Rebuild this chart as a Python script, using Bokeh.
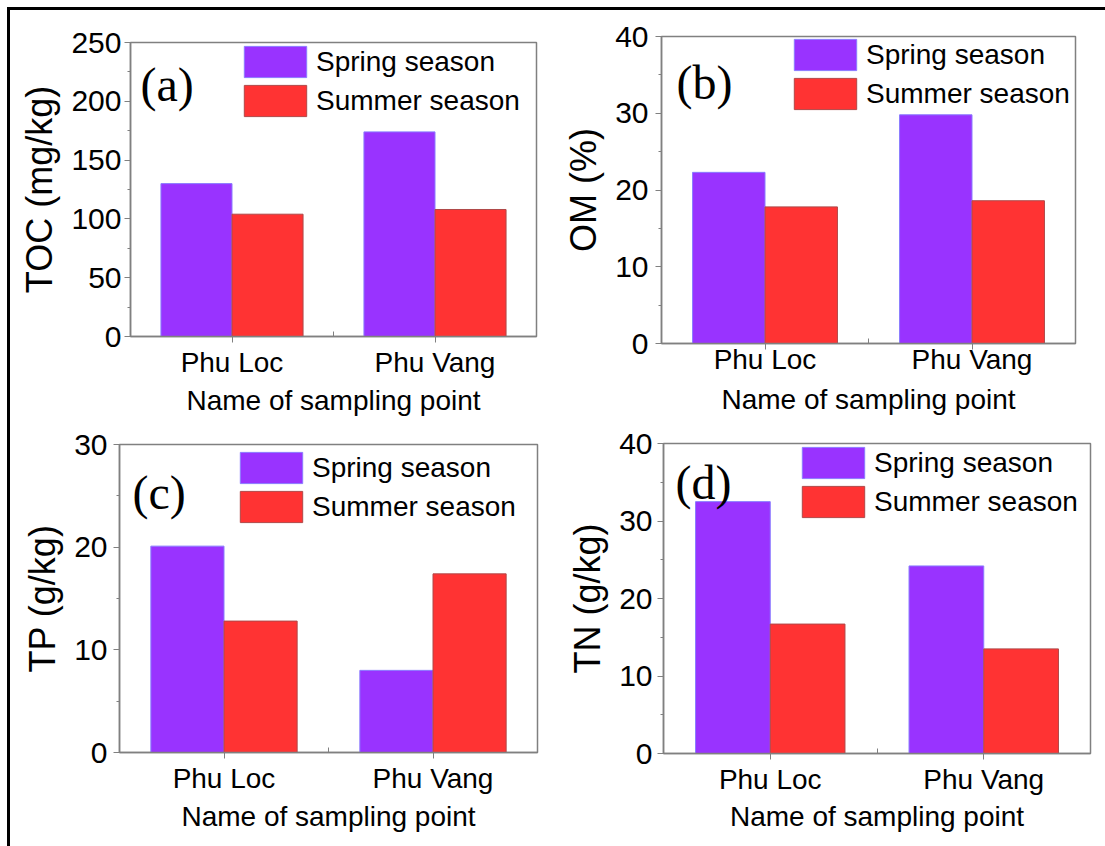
from bokeh.plotting import figure
from bokeh.models import (ColumnDataSource, Legend, LegendItem, Label, FixedTicker,
                          SingleIntervalTicker, Range1d, InlineStyleSheet)
from bokeh.layouts import row, column
from bokeh.transform import dodge
from bokeh.embed import file_html
from bokeh.resources import INLINE

# ---------------- data ----------------
sites = ["Phu Loc", "Phu Vang"]
series_names = ["Spring season", "Summer season"]

toc_spring = [130, 174]
toc_summer = [104, 108]
om_spring = [22.3, 29.8]
om_summer = [17.8, 18.6]
tp_spring = [20.1, 8.0]
tp_summer = [12.8, 17.4]
tn_spring = [32.5, 24.2]
tn_summer = [16.7, 13.5]

y_titles = ["TOC (mg/kg)", "OM (%)", "TP (g/kg)", "TN (g/kg)"]
panel_tags = ["(a)", "(b)", "(c)", "(d)"]
y_max = [250, 40, 30, 40]
y_step = [50, 10, 10, 10]
x_title = "Name of sampling point"

SPRING = "#9933FF"
SUMMER = "#FF3333"
SPRING_LINE = "#8A7CFF"
SUMMER_LINE = "#B04848"
GREY = "#808080"
SANS = "Liberation Sans"
SERIF = "Liberation Serif"

# layout per panel: (width, height, left, right, top, bottom, legend_x, legend_y, tag_x, tag_y)
geom = [
    (550, 420, 130, 14, 42, 84, 114, 220, 10, 252),
    (555, 420, 111, 30, 36, 77, 133, 234, 15, 261),
    (550, 426, 119, 13, 24, 94, 121, 230, 13, 260),
    (555, 426, 113, 15, 23, 93, 139, 236, 12, 271),
]
# standoffs per panel: (x tick label, x title, y tick label)
standoffs = [
    (4, 4, 3),
    (-6, 6, 7),
    (4, 4, 6),
    (4, 3, 5),
]


def make_panel(i, spring, summer):
    w, h, bl, br, bt, bb, lx, ly, tx, ty = geom[i]
    xs, xts, ys = standoffs[i]
    x_pos = [k + 1 for k in range(len(sites))]
    src = ColumnDataSource(dict(x=x_pos, spring=spring, summer=summer))
    p = figure(width=w, height=h, output_backend="svg", toolbar_location=None,
               x_range=Range1d(0.5, len(sites) + 0.5), y_range=Range1d(0, y_max[i]),
               min_border_left=bl, min_border_right=br, min_border_top=bt,
               min_border_bottom=bb)
    p.xgrid.visible = False
    p.ygrid.visible = False
    p.outline_line_color = GREY
    p.outline_line_width = 1.5
    p.background_fill_color = "white"
    p.border_fill_color = "white"

    bw = 0.35
    r1 = p.vbar(x=dodge("x", -bw / 2, range=p.x_range), top="spring", width=bw,
                source=src, fill_color=SPRING, line_color=SPRING_LINE, line_width=1)
    r2 = p.vbar(x=dodge("x", bw / 2, range=p.x_range), top="summer", width=bw,
                source=src, fill_color=SUMMER, line_color=SUMMER_LINE, line_width=1)

    # x axis
    xa = p.xaxis[0]
    xa.ticker = FixedTicker(ticks=x_pos, minor_ticks=[1.5])
    xa.major_label_overrides = {x_pos[k]: sites[k] for k in range(len(sites))}
    xa.axis_line_color = GREY
    xa.axis_line_width = 1.5
    xa.major_tick_line_color = GREY
    xa.minor_tick_line_color = GREY
    xa.major_tick_out = 6
    xa.major_tick_in = 0
    xa.minor_tick_in = 5
    xa.minor_tick_out = 0
    xa.major_label_text_font = SANS
    xa.major_label_text_font_size = "28px"
    xa.major_label_text_color = "black"
    xa.major_label_standoff = xs
    xa.axis_label = x_title
    xa.axis_label_text_font = SANS
    xa.axis_label_text_font_size = "28px"
    xa.axis_label_text_font_style = "normal"
    xa.axis_label_text_color = "black"
    xa.axis_label_standoff = xts

    # y axis
    ya = p.yaxis[0]
    ya.ticker = SingleIntervalTicker(interval=y_step[i], num_minor_ticks=2)
    ya.axis_line_color = GREY
    ya.axis_line_width = 1.5
    ya.major_tick_line_color = GREY
    ya.minor_tick_line_color = GREY
    ya.major_tick_out = 6
    ya.major_tick_in = 0
    ya.minor_tick_out = 3
    ya.minor_tick_in = 0
    ya.major_label_text_font = SANS
    ya.major_label_text_font_size = "30px"
    ya.major_label_text_color = "black"
    ya.major_label_standoff = ys
    ya.axis_label = y_titles[i]
    ya.axis_label_text_font = SANS
    ya.axis_label_text_font_size = "36px"
    ya.axis_label_text_font_style = "normal"
    ya.axis_label_text_color = "black"
    ya.axis_label_standoff = 8

    legend = Legend(items=[LegendItem(label=series_names[0], renderers=[r1]),
                           LegendItem(label=series_names[1], renderers=[r2])],
                    location=(lx - 8, ly - 4), orientation="vertical",
                    glyph_width=78, glyph_height=39, label_height=39, spacing=-3,
                    padding=0, margin=0, label_standoff=2,
                    label_text_font=SANS, label_text_font_size="28px",
                    label_text_color="black",
                    border_line_alpha=0, background_fill_alpha=0)
    p.add_layout(legend, "center")

    tag = Label(x=tx, y=ty, x_units="screen", y_units="screen", text=panel_tags[i],
                text_font=SERIF, text_font_size="48px", text_color="black",
                text_baseline="alphabetic", text_align="left")
    p.add_layout(tag)
    return p


pa = make_panel(0, toc_spring, toc_summer)
pb = make_panel(1, om_spring, om_summer)
pc = make_panel(2, tp_spring, tp_summer)
pd = make_panel(3, tn_spring, tn_summer)

frame_css = InlineStyleSheet(css="""
:host { position: relative; }
:host::after { content: ""; position: absolute; left: 7px; top: 7px; right: 0; bottom: 0;
  border-top: 3px solid #000; border-left: 3px solid #000; pointer-events: none; }
""")

layout = column(row(column(pa), column(pb)), row(column(pc), column(pd)),
                stylesheets=[frame_css])

open("out.html", "w").write(file_html(layout, INLINE))
